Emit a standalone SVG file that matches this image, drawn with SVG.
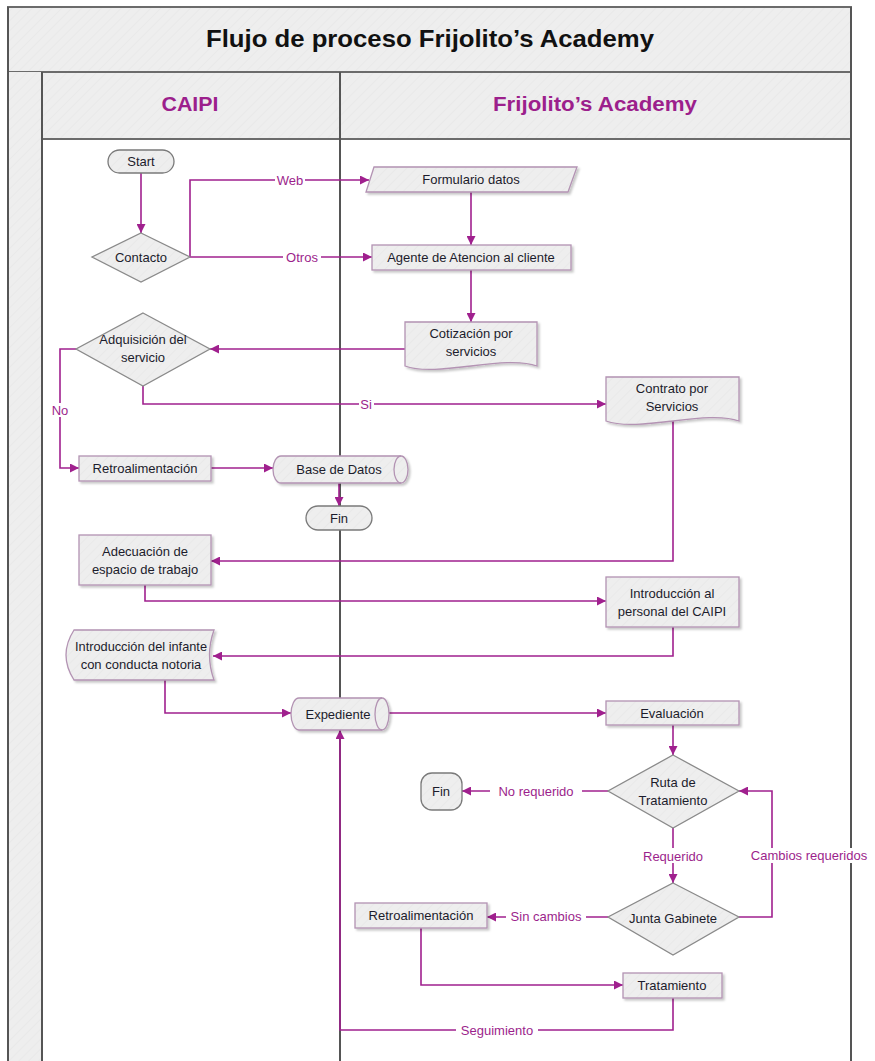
<svg xmlns="http://www.w3.org/2000/svg" width="875" height="1061" viewBox="0 0 875 1061">
<defs>
  <pattern id="hatch" width="7" height="7" patternUnits="userSpaceOnUse" patternTransform="rotate(45)">
    <rect width="7" height="7" fill="#eeeeee"/>
    <line x1="0" y1="0" x2="0" y2="7" stroke="#e8e8e8" stroke-width="1.5"/>
  </pattern>
  <filter id="sh" x="-10%" y="-10%" width="130%" height="140%">
    <feDropShadow dx="2" dy="2" stdDeviation="1.2" flood-color="#000" flood-opacity="0.22"/>
  </filter>
  <marker id="ah" viewBox="0 0 10 10" refX="10" refY="5" markerWidth="9" markerHeight="9" markerUnits="userSpaceOnUse" orient="auto">
    <path d="M0,0 L10,5 L0,10 Z" fill="#a0208e"/>
  </marker>
</defs>
<style>
  .frame { fill: url(#hatch); stroke: #6b6b6b; stroke-width: 2; }
  .lane { stroke: #555; stroke-width: 2; fill: none; }
  .title { font-family: "Liberation Sans", Arial, sans-serif; font-weight: bold; font-size: 24px; fill: #111; }
  .hdr { font-family: "Liberation Sans", Arial, sans-serif; font-weight: bold; font-size: 20px; fill: #9c1f8c; }
  .node { fill: url(#hatch); stroke: #b393b3; stroke-width: 1.3; filter: url(#sh); }
  .dia { fill: url(#hatch); stroke: #8a8a8a; stroke-width: 1.3; }
  .pill { fill: url(#hatch); stroke: #7a7a7a; stroke-width: 1.3; }
  .t { font-family: "Liberation Sans", Arial, sans-serif; font-size: 13px; fill: #1c1c2c; text-anchor: middle; dominant-baseline: central; }
  .ca { stroke: #a0208e; stroke-width: 1.6; fill: none; marker-end: url(#ah); }
  .lbl { font-family: "Liberation Sans", Arial, sans-serif; font-size: 13px; fill: #9c1f8c; text-anchor: middle; dominant-baseline: central; }
  .lblbg { fill: #ffffff; }
</style>

<rect width="875" height="1061" fill="#ffffff"/>

<!-- Swimlane frame -->
<g id="frame">
  <rect class="frame" x="8" y="7" width="843" height="65"/>
  <rect class="frame" x="42" y="72" width="809" height="67"/>
  <rect x="8" y="72" width="34" height="989" fill="url(#hatch)"/>
  <line class="lane" x1="8" y1="7" x2="8" y2="1061"/>
  <line class="lane" x1="42" y1="72" x2="42" y2="1061"/>
  <line class="lane" x1="340" y1="72" x2="340" y2="1061"/>
  <line class="lane" x1="851" y1="7" x2="851" y2="1061"/>
  <text class="title" x="430" y="47" text-anchor="middle" textLength="448" lengthAdjust="spacingAndGlyphs">Flujo de proceso Frijolito’s Academy</text>
  <text class="hdr" x="190" y="111" text-anchor="middle" textLength="57" lengthAdjust="spacingAndGlyphs">CAIPI</text>
  <text class="hdr" x="595" y="111" text-anchor="middle" textLength="204" lengthAdjust="spacingAndGlyphs">Frijolito’s Academy</text>
</g>

<!-- Connectors -->
<g id="connectors">
  <path class="ca" d="M141,173 V233"/>
  <path class="ca" d="M190,257 V180 H369"/>
  <path class="ca" d="M190,257 H372"/>
  <path class="ca" d="M471,192 V245"/>
  <path class="ca" d="M471,270 V322"/>
  <path class="ca" d="M405,349 H210"/>
  <path class="ca" d="M143,386 V404 H606"/>
  <path class="ca" d="M76,349 H60 V468 H79"/>
  <path class="ca" d="M211,468 H273"/>
  <path class="ca" d="M339,483 V506"/>
  <path class="ca" d="M673,420 V561 H211"/>
  <path class="ca" d="M145,585 V601 H606"/>
  <path class="ca" d="M673,627 V656 H213"/>
  <path class="ca" d="M165,680 V713 H291"/>
  <path class="ca" d="M389,713 H606"/>
  <path class="ca" d="M673,725 V755"/>
  <path class="ca" d="M608,791 H462"/>
  <path class="ca" d="M673,828 V883"/>
  <path class="ca" d="M739,917 H772 V791 H739"/>
  <path class="ca" d="M608,917 H487"/>
  <path class="ca" d="M421,928 V985 H623"/>
  <path class="ca" d="M673,998 V1030 H340 V730"/>

  <rect class="lblbg" x="275" y="173" width="30" height="14"/>
  <text class="lbl" x="290" y="180">Web</text>
  <rect class="lblbg" x="283" y="250" width="38" height="14"/>
  <text class="lbl" x="302" y="257">Otros</text>
  <rect class="lblbg" x="359" y="397" width="15" height="14"/>
  <text class="lbl" x="366" y="404">Si</text>
  <rect class="lblbg" x="48" y="403" width="24" height="14"/>
  <text class="lbl" x="60" y="410">No</text>
  <rect class="lblbg" x="490" y="784" width="92" height="14"/>
  <text class="lbl" x="536" y="791">No requerido</text>
  <rect class="lblbg" x="638" y="848" width="70" height="15"/>
  <text class="lbl" x="673" y="856">Requerido</text>
  <rect class="lblbg" x="744" y="848" width="130" height="15"/>
  <text class="lbl" x="809" y="855">Cambios requeridos</text>
  <rect class="lblbg" x="506" y="909" width="80" height="14"/>
  <text class="lbl" x="546" y="916">Sin cambios</text>
  <rect class="lblbg" x="456" y="1023" width="82" height="14"/>
  <text class="lbl" x="497" y="1030">Seguimiento</text>
</g>

<!-- Nodes -->
<g id="start">
  <rect class="pill" x="108" y="150" width="66" height="23" rx="11.5"/>
  <text class="t" x="141" y="161">Start</text>
</g>
<g id="contacto">
  <polygon class="dia" points="141,233 190,257 141,282 92,257"/>
  <text class="t" x="141" y="257">Contacto</text>
</g>
<g id="formulario">
  <polygon class="node" points="374,167 577,167 568,192 366,192"/>
  <text class="t" x="471" y="179">Formulario datos</text>
</g>
<g id="agente">
  <rect class="node" x="372" y="245" width="199" height="25"/>
  <text class="t" x="471" y="257">Agente de Atencion al cliente</text>
</g>
<g id="cotizacion">
  <path class="node" d="M405,322 H537 V366 C505,354 437,378 405,366 Z"/>
  <text class="t" x="471" y="333">Cotización por</text>
  <text class="t" x="471" y="351">servicios</text>
</g>
<g id="adquisicion">
  <polygon class="dia" points="143,313 210,349 143,386 76,349"/>
  <text class="t" x="143" y="339">Adquisición del</text>
  <text class="t" x="143" y="357">servicio</text>
</g>
<g id="contrato">
  <path class="node" d="M606,377 H739 V421 C707,409 639,433 606,421 Z"/>
  <text class="t" x="672" y="388">Contrato por</text>
  <text class="t" x="672" y="406">Servicios</text>
</g>
<g id="retro1">
  <rect class="node" x="79" y="456" width="132" height="25"/>
  <text class="t" x="145" y="468">Retroalimentación</text>
</g>
<g id="basedatos">
  <path class="node" d="M281,456 H401 A7,13.5 0 0 1 401,483 H281 A8,13.5 0 0 1 281,456 Z"/>
  <path d="M401,456 A7,13.5 0 0 0 401,483" fill="none" stroke="#b393b3" stroke-width="1.3"/>
  <text class="t" x="339" y="469">Base de Datos</text>
</g>
<g id="fin1">
  <rect class="pill" x="306" y="506" width="66" height="24" rx="12"/>
  <text class="t" x="339" y="518">Fin</text>
</g>
<g id="adecuacion">
  <rect class="node" x="79" y="535" width="132" height="50"/>
  <text class="t" x="145" y="551">Adecuación de</text>
  <text class="t" x="145" y="569">espacio de trabajo</text>
</g>
<g id="intro_personal">
  <rect class="node" x="606" y="577" width="133" height="50"/>
  <text class="t" x="672" y="593">Introducción al</text>
  <text class="t" x="672" y="611">personal del CAIPI</text>
</g>
<g id="intro_infante">
  <path class="node" d="M74,630 H214 Q205,655 214,680 H74 Q58,655 74,630 Z"/>
  <text class="t" x="141" y="646" textLength="132" lengthAdjust="spacingAndGlyphs">Introducción del infante</text>
  <text class="t" x="141" y="664">con conducta notoria</text>
</g>
<g id="expediente">
  <path class="node" d="M299,698 H382 A7,16 0 0 1 382,730 H299 A8,16 0 0 1 299,698 Z"/>
  <path d="M382,698 A7,16 0 0 0 382,730" fill="none" stroke="#b393b3" stroke-width="1.3"/>
  <text class="t" x="338" y="714">Expediente</text>
</g>
<g id="evaluacion">
  <rect class="node" x="606" y="701" width="133" height="24"/>
  <text class="t" x="672" y="713">Evaluación</text>
</g>
<g id="ruta">
  <polygon class="dia" points="673,755 739,791 673,828 608,791"/>
  <text class="t" x="673" y="782">Ruta de</text>
  <text class="t" x="673" y="800">Tratamiento</text>
</g>
<g id="fin2">
  <rect class="pill" x="421" y="773" width="41" height="37" rx="11"/>
  <text class="t" x="441" y="791">Fin</text>
</g>
<g id="junta">
  <polygon class="dia" points="673,883 739,917 673,955 608,917"/>
  <text class="t" x="673" y="918">Junta Gabinete</text>
</g>
<g id="retro2">
  <rect class="node" x="355" y="903" width="132" height="25"/>
  <text class="t" x="421" y="915">Retroalimentación</text>
</g>
<g id="tratamiento">
  <rect class="node" x="623" y="973" width="99" height="25"/>
  <text class="t" x="672" y="985">Tratamiento</text>
</g>
</svg>
